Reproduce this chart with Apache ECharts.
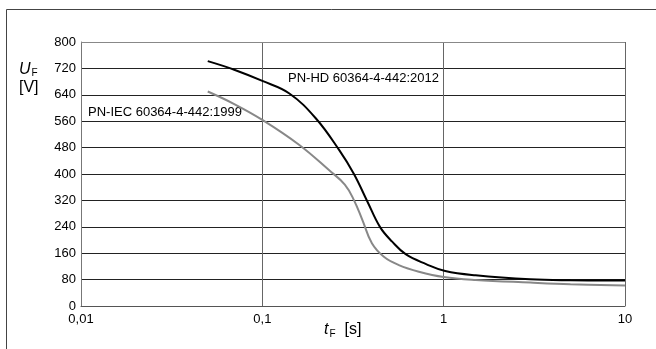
<!DOCTYPE html>
<html>
<head>
<meta charset="utf-8">
<script src="https://cdn.jsdelivr.net/npm/echarts@6/dist/echarts.min.js"></script>
<style>
  html, body { margin: 0; padding: 0; background: #fff; }
  #chart { width: 656px; height: 349px; }
</style>
</head>
<body>
<div id="chart"></div>
<script>
// values
const tHD = [0.05, 0.07, 0.1, 0.141, 0.197, 0.265, 0.32, 0.38, 0.446, 0.52, 0.617, 0.8, 1.02, 1.5, 3, 5, 10];
const uHD = [742, 716, 682, 644, 569, 473, 400, 316, 239, 195, 157, 127, 106, 93, 81, 78, 77];

const tIEC = [0.05, 0.07, 0.1, 0.16, 0.233, 0.285, 0.32, 0.356, 0.402, 0.468, 0.566, 0.73, 1, 1.5, 3, 5, 10];
const uIEC = [650, 612, 564, 488, 412, 368, 321, 261, 190, 149, 124, 104, 88, 79, 71, 66, 62];

const nameHD = 'PN-HD 60364-4-442:2012';
const nameIEC = 'PN-IEC 60364-4-442:1999';

const yTicks = [0, 80, 160, 240, 320, 400, 480, 560, 640, 720, 800];

const font = 'Liberation Sans, Arial, sans-serif';

const chartDom = document.getElementById('chart');
const myChart = echarts.init(chartDom);

const zip = (xs, ys) => xs.map((x, i) => [x, ys[i]]);

const option = {
    animation: false,
    backgroundColor: '#fff',
    textStyle: { fontFamily: font },
    grid: { left: 81, right: 31, top: 42, bottom: 43 },
    xAxis: {
        type: 'log',
        logBase: 10,
        min: 0.01,
        max: 10,
        axisLine: { lineStyle: { color: '#555', width: 1 } },
        axisTick: { show: false },
        axisLabel: {
            color: '#000',
            fontSize: 13,
            fontFamily: font,
            margin: 7,
            formatter: (v) => String(v).replace('.', ',')
        },
        splitLine: { show: true, lineStyle: { color: '#666', width: 1 } }
    },
    yAxis: {
        type: 'value',
        min: yTicks[0],
        max: yTicks[yTicks.length - 1],
        interval: 80,
        axisLine: { show: true, lineStyle: { color: '#777', width: 1 } },
        axisTick: { show: false },
        axisLabel: { color: '#000', fontSize: 13, fontFamily: font, margin: 5 },
        splitLine: { show: true, lineStyle: { width: 1, color: '#222' } }
    },
    series: [
        {
            name: nameIEC,
            type: 'line',
            data: zip(tIEC, uIEC),
            smooth: 0.4,
            symbol: 'none',
            lineStyle: { color: '#888', width: 2 },
            z: 3
        },
        {
            name: nameHD,
            type: 'line',
            data: zip(tHD, uHD),
            smooth: 0.4,
            symbol: 'none',
            lineStyle: { color: '#000', width: 2 },
            z: 4
        }
    ],
    graphic: [
        // outer frame (left and top edges visible)
        { type: 'line', shape: { x1: 6.5, y1: 9.5, x2: 656, y2: 9.5 }, style: { stroke: '#444', lineWidth: 1 } },
        { type: 'line', shape: { x1: 6.5, y1: 9.5, x2: 6.5, y2: 349 }, style: { stroke: '#444', lineWidth: 1 } },
        // top edge of plot in grey
        { type: 'line', shape: { x1: 81, y1: 42.5, x2: 625, y2: 42.5 }, style: { stroke: '#888', lineWidth: 1 }, z: 10 },
        // curve labels
        {
            type: 'text', left: 288, top: 72,
            style: { text: nameHD, fontSize: 13, fontFamily: font, fill: '#000' }
        },
        {
            type: 'text', left: 88, top: 106,
            style: { text: nameIEC, fontSize: 13, fontFamily: font, fill: '#000' }
        },
        // axis titles
        {
            type: 'text', left: 19, top: 61,
            style: {
                text: '{u|U}{s|F}\n{b|[V]}',
                fontFamily: font,
                fill: '#000',
                rich: {
                    u: { fontSize: 16, fontStyle: 'italic', fontFamily: font, lineHeight: 18 },
                    s: { fontSize: 10, fontFamily: font, padding: [7, 0, 0, 1], lineHeight: 18 },
                    b: { fontSize: 16, fontFamily: font, lineHeight: 18 }
                }
            }
        },
        {
            type: 'text', left: 324, top: 322,
            style: {
                text: '{u|t}{s|F}{b|  [s]}',
                fontFamily: font,
                fill: '#000',
                rich: {
                    u: { fontSize: 16, fontStyle: 'italic', fontFamily: font },
                    s: { fontSize: 10, fontFamily: font, padding: [8, 0, 0, 1] },
                    b: { fontSize: 16, fontFamily: font }
                }
            }
        }
    ]
};

myChart.setOption(option);
window.addEventListener('resize', () => myChart.resize());
</script>
</body>
</html>
